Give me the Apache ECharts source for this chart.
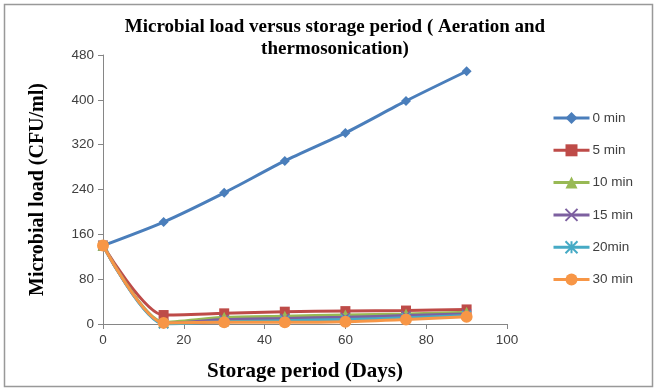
<!DOCTYPE html>
<html>
<head>
<meta charset="utf-8">
<script src="https://cdn.jsdelivr.net/npm/echarts@6/dist/echarts.min.js"></script>
<style>html,body{margin:0;padding:0;background:#fff}#c{width:657px;height:388px}</style>
</head>
<body>
<div id="c"></div>
<script>
const days = [0, 15, 30, 45, 60, 75, 90];
const seriesNames = ['0 min', '5 min', '10 min', '15 min', '20min', '30 min'];
const min0 = [140, 182, 234, 291, 341, 398, 451];
const min5 = [140, 16, 19, 22, 23, 24, 26];
const min10 = [140, 3, 12, 14, 16, 18, 21];
const min15 = [140, 1, 8, 10, 12, 15, 18];
const min20 = [140, 0, 4, 6, 8, 11, 15];
const min30 = [140, 2, 3, 3, 4, 8, 13];
const yTicks = [0, 80, 160, 240, 320, 400, 480];
const xTicks = [0, 20, 40, 60, 80, 100];

const allValues = [min0, min5, min10, min15, min20, min30];
const colors = ['#4A7EBB', '#BE4B48', '#98B954', '#7D60A0', '#46AAC5', '#F79646'];
const symbols = ['diamond', 'rect', 'triangle',
  'path://M0,0L10,10M10,0L0,10',
  'path://M5,0L5,10M0,0L10,10M10,0L0,10',
  'circle'];
const sizes = [10, 10, 11, 9, 9, 12];

const chart = echarts.init(document.getElementById('c'), null, {renderer: 'canvas'});
const series = allValues.map((vals, i) => {
  const isStroke = i === 3 || i === 4;
  return {
    name: seriesNames[i],
    type: 'line',
    smooth: 0.25,
    data: days.map((d, j) => [d, vals[j]]),
    symbol: symbols[i],
    symbolSize: sizes[i],
    showAllSymbol: true,
    lineStyle: {color: colors[i], width: 3},
    itemStyle: isStroke
      ? {color: colors[i], borderColor: colors[i], borderWidth: 1.5}
      : {color: colors[i], borderColor: colors[i], borderWidth: 0},
    emphasis: {disabled: true},
    z: 2 + i
  };
});

chart.setOption({
  animation: false,
  backgroundColor: '#fff',
  title: {
    text: 'Microbial load versus storage period ( Aeration and\nthermosonication)',
    left: 330, top: 11, textAlign: 'center',
    textStyle: {fontFamily: 'Liberation Serif', fontWeight: 'bold', fontSize: 19, color: '#000', lineHeight: 22}
  },
  grid: {left: 103, right: 150, top: 55, bottom: 64, containLabel: false},
  legend: {
    orient: 'vertical', left: 547, top: 106,
    itemWidth: 36, itemHeight: 15, itemGap: 18.3,
    lineStyle: {width: 3},
    textStyle: {fontFamily: 'Liberation Sans', fontSize: 13.5, color: '#404040', padding: [0, 0, 0, -2]},
    data: seriesNames
  },
  xAxis: {
    type: 'value', min: 0, max: 100, interval: 20,
    name: 'Storage period (Days)', nameLocation: 'middle', nameGap: 37,
    nameTextStyle: {fontFamily: 'Liberation Serif', fontWeight: 'bold', fontSize: 21, color: '#000'},
    axisLine: {lineStyle: {color: '#868686', width: 1}},
    axisTick: {show: true, inside: false, length: 5, lineStyle: {color: '#868686'}},
    axisLabel: {fontFamily: 'Liberation Sans', fontSize: 13.5, color: '#404040', margin: 9,
      formatter: v => xTicks.includes(v) ? String(v) : ''},
    splitLine: {show: false}
  },
  yAxis: {
    type: 'value', min: 0, max: 480, interval: 80,
    name: 'Microbial load (CFU/ml)', nameLocation: 'middle', nameGap: 55,
    nameTextStyle: {fontFamily: 'Liberation Serif', fontWeight: 'bold', fontSize: 20, color: '#000'},
    axisLine: {show: true, lineStyle: {color: '#868686', width: 1}},
    axisTick: {show: true, inside: false, length: 5, lineStyle: {color: '#868686'}},
    axisLabel: {fontFamily: 'Liberation Sans', fontSize: 13.5, color: '#404040', margin: 9,
      formatter: v => yTicks.includes(v) ? String(v) : ''},
    splitLine: {show: false}
  },
  graphic: [{
    type: 'rect', silent: true, z: -1,
    shape: {x: 4.5, y: 4.5, width: 648, height: 382},
    style: {fill: 'none', stroke: '#999', lineWidth: 1.5}
  }],
  series: series
});
</script>
</body>
</html>
